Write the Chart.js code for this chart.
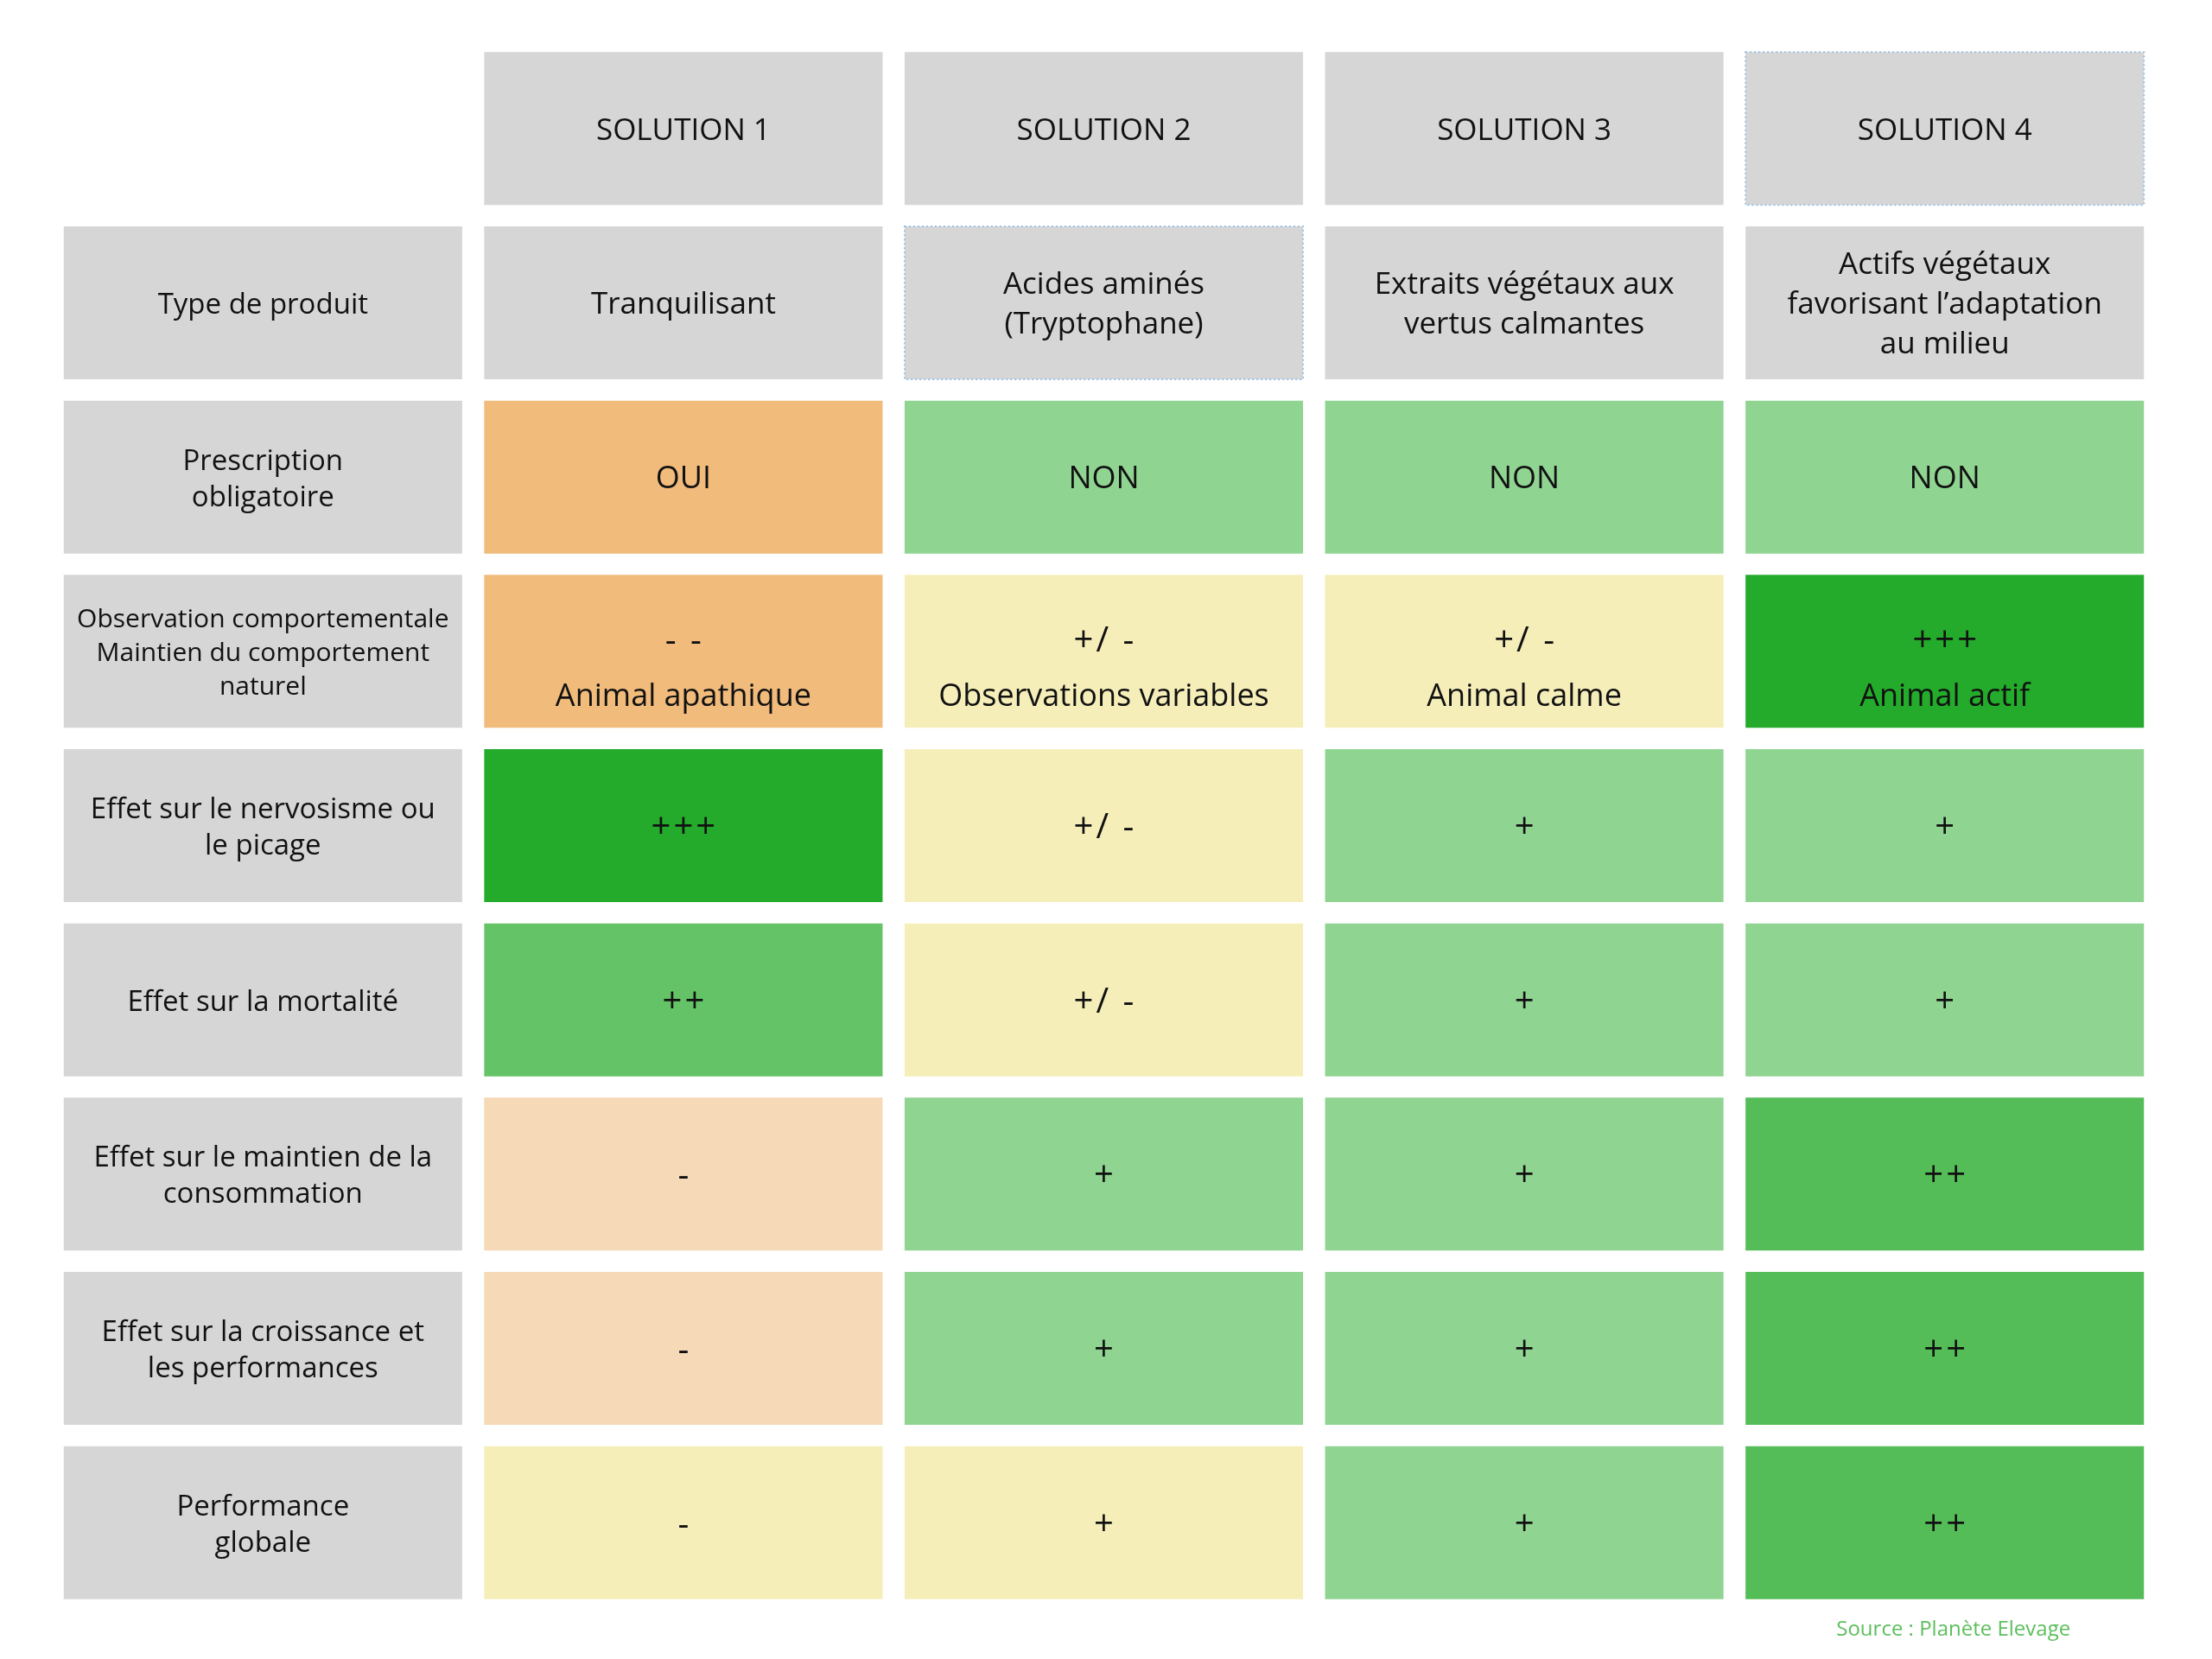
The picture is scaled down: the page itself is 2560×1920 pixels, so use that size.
<!DOCTYPE html>
<html>
<head>
<meta charset="utf-8">
<script src="https://cdn.jsdelivr.net/npm/chart.js@4.4.1/dist/chart.umd.min.js"></script>
<style>
  html, body { margin: 0; padding: 0; background: #fff; }
  #wrap { width: 2560px; height: 1920px; }
</style>
</head>
<body>
<div id="wrap"><canvas id="grid"></canvas></div>
<script>
// columns and row headings
const solutions = ['SOLUTION 1', 'SOLUTION 2', 'SOLUTION 3', 'SOLUTION 4'];
const criteria = [
  'Type de produit',
  'Prescription\nobligatoire',
  'Observation comportementale\nMaintien du comportement\nnaturel',
  'Effet sur le nervosisme ou\nle picage',
  'Effet sur la mortalité',
  'Effet sur le maintien de la\nconsommation',
  'Effet sur la croissance et\nles performances',
  'Performance\nglobale'
];

// cell contents, one array per criterion
const typeProduit = ['Tranquilisant', 'Acides aminés\n(Tryptophane)', 'Extraits végétaux aux\nvertus calmantes', 'Actifs végétaux\nfavorisant l’adaptation\nau milieu'];
const prescription = ['OUI', 'NON', 'NON', 'NON'];
const observation = ['- -\nAnimal apathique', '+/ -\nObservations variables', '+/ -\nAnimal calme', '+++\nAnimal actif'];
const nervosisme = ['+++', '+/ -', '+', '+'];
const mortalite = ['++', '+/ -', '+', '+'];
const consommation = ['-', '+', '+', '++'];
const croissance = ['-', '+', '+', '++'];
const performance = ['-', '+', '+', '++'];

// colour class of each cell
const tones = [
  ['grey', 'grey', 'grey', 'grey'],
  ['orange', 'green', 'green', 'green'],
  ['orange', 'yellow', 'yellow', 'green3'],
  ['green3', 'yellow', 'green', 'green'],
  ['green2', 'yellow', 'green', 'green'],
  ['peach', 'green', 'green', 'green2b'],
  ['peach', 'green', 'green', 'green2b'],
  ['yellow', 'yellow', 'green', 'green2b']
];

const rows = [typeProduit, prescription, observation, nervosisme, mortalite, consommation, croissance, performance];

const palette = {
  grey: '#d6d6d6',
  orange: '#f0bb7b',
  peach: '#f6d9b6',
  yellow: '#f6eeb9',
  green: '#90d492',
  green2: '#64c366',
  green2b: '#55bd57',
  green3: '#24ab2b'
};

const columns = ['Critère', ...solutions];
const GAP = 0.061; // half the white gap between rows, in row units
const dottedCells = [[0, 4], [1, 2]];

const datasets = [];
datasets.push({
  data: solutions.map(s => ({ x: s, y: [GAP, 1 - GAP] })),
  backgroundColor: palette.grey,
  texts: solutions.map(s => [s]),
  kind: 'header'
});
rows.forEach((vals, r) => {
  const y = [r + 1 + GAP, r + 2 - GAP];
  datasets.push({
    data: [{ x: columns[0], y }, ...vals.map((v, c) => ({ x: solutions[c], y }))],
    backgroundColor: [palette.grey, ...tones[r].map(t => palette[t])],
    texts: [criteria[r].split('\n'), ...vals.map(v => v.split('\n'))],
    kind: r === 0 ? 'type' : (r === 2 ? 'obs' : 'rating')
  });
});
datasets.forEach(d => {
  d.grouped = false;
  d.barPercentage = 0.9476;
  d.categoryPercentage = 1;
  d.borderWidth = 0;
});

const FONT = '"Open Sans", "Noto Sans", sans-serif';

const cellText = {
  id: 'cellText',
  afterDatasetsDraw(chart) {
    const ctx = chart.ctx;
    ctx.save();
    ctx.fillStyle = '#111';
    ctx.textAlign = 'center';
    ctx.textBaseline = 'middle';
    chart.data.datasets.forEach((ds, di) => {
      const meta = chart.getDatasetMeta(di);
      meta.data.forEach((bar, i) => {
        const lines = ds.texts[i];
        const cx = bar.x;
        const cy = (bar.y + bar.base) / 2 + 3;
        let size = 36, lh = 46, start;
        const isLabel = ds.kind !== 'header' && i === 0;
        if (ds.kind === 'header') { size = 35; }
        else if (isLabel) {
          if (lines.length === 3) { size = 30; lh = 39; } else { size = 33; lh = 42; }
        } else if (ds.kind === 'type') { size = 35; lh = 46; }
        else if (ds.kind === 'obs') { size = 36; lh = 64; }
        start = cy - (lines.length - 1) * lh / 2;
        if (ds.kind === 'obs' && !isLabel) start = cy - 14;
        lines.forEach((line, k) => {
          const sym = /^[+\-\/ ]+$/.test(line) && !isLabel;
          ctx.font = (sym ? 40 : size) + 'px ' + FONT;
          ctx.letterSpacing = sym ? '3px' : '0px';
          ctx.fillText(line, cx + (sym ? 1.5 : 0), start + k * lh);
        });
      });
    });
    ctx.letterSpacing = '0px';

    // dotted selection frames seen in the source
    ctx.setLineDash([2, 3]);
    ctx.strokeStyle = '#9cc2e5';
    ctx.lineWidth = 2;
    dottedCells.forEach(([r, c]) => {
      const ds = chart.getDatasetMeta(r);
      const idx = r === 0 ? c - 1 : c;
      const bar = ds.data[idx];
      const w = bar.width;
      ctx.strokeRect(bar.x - w / 2, bar.y, w, bar.base - bar.y);
    });
    ctx.setLineDash([]);

    // source line
    const xs = chart.scales.x;
    ctx.font = '24px ' + FONT;
    ctx.fillStyle = '#5dbf5d';
    ctx.fillText('Source : Planète Elevage', xs.getPixelForValue(4) + 10, chart.chartArea.bottom + 23);
    ctx.restore();
  }
};

new Chart(document.getElementById('grid'), {
  type: 'bar',
  data: { labels: columns, datasets },
  options: {
    responsive: true,
    maintainAspectRatio: false,
    devicePixelRatio: 1,
    animation: false,
    layout: { padding: { left: 61, right: 66, top: 48, bottom: 57 } },
    scales: {
      x: { type: 'category', display: false, offset: true },
      y: { type: 'linear', display: false, min: 0, max: 9, reverse: true }
    },
    plugins: {
      legend: { display: false },
      tooltip: { enabled: false }
    }
  },
  plugins: [cellText]
});
</script>
</body>
</html>
